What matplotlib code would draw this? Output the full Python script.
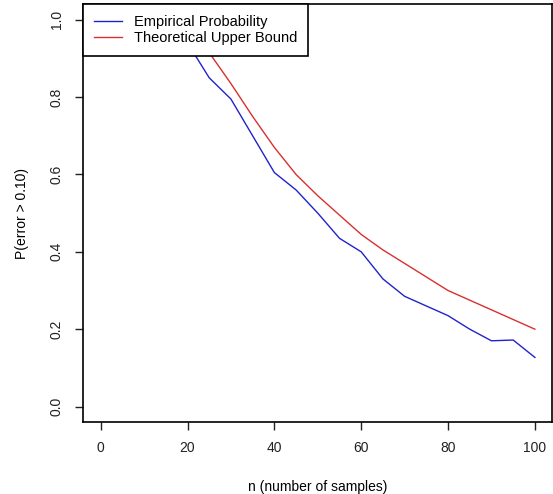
import numpy as np
import matplotlib
matplotlib.use('Agg')
import matplotlib.pyplot as plt

plt.rcParams['font.family'] = ['Liberation Sans', 'DejaVu Sans']

n = [5, 10, 15, 20, 25, 30, 35, 40, 45, 50,
     55, 60, 65, 70, 75, 80, 85, 90, 95, 100]
empirical = [1.0, 1.0, 0.99, 0.94, 0.85, 0.795, 0.70, 0.605, 0.56, 0.50,
             0.435, 0.40, 0.33, 0.285, 0.26, 0.235, 0.20, 0.17, 0.172, 0.127]
bound = [2.0, 1.5, 1.2, 1.0, 0.915, 0.835, 0.75, 0.67, 0.60, 0.545,
         0.495, 0.445, 0.405, 0.37, 0.335, 0.30, 0.275, 0.25, 0.225, 0.20]

fig = plt.figure(figsize=(5.53, 4.94), dpi=100)
ax = fig.add_axes([0.1506, 0.1457, 0.8481, 0.8456])

ax.plot(n, empirical, color='#2222cc', lw=1.0, label='Empirical Probability')
ax.plot(n, bound, color='#d83030', lw=1.0, label='Theoretical Upper Bound')

ax.set_xlim(-4, 104)
ax.set_ylim(-0.04, 1.04)
ax.set_xticks([0, 20, 40, 60, 80, 100])
ax.set_yticks([0.0, 0.2, 0.4, 0.6, 0.8, 1.0])
ax.set_yticklabels(['0.0', '0.2', '0.4', '0.6', '0.8', '1.0'],
                   rotation=90, va='center')
ax.tick_params(direction='out', length=6, width=1, labelsize=10, pad=8,
               colors='#222222')
for s in ax.spines.values():
    s.set_linewidth(1.2)
    s.set_color('black')

ax.set_xlabel('n (number of samples)', fontsize=10, labelpad=18)
ax.set_ylabel('P(error > 0.10)', fontsize=10, labelpad=15)

leg = ax.legend(loc='upper left', fontsize=10.5, frameon=True, fancybox=False,
                framealpha=1, borderaxespad=0, handlelength=1.9,
                borderpad=0.74, labelspacing=0.12, handletextpad=0.85)
leg.get_frame().set_edgecolor('black')
leg.get_frame().set_linewidth(1.2)

fig.savefig('out.png', dpi=100)
